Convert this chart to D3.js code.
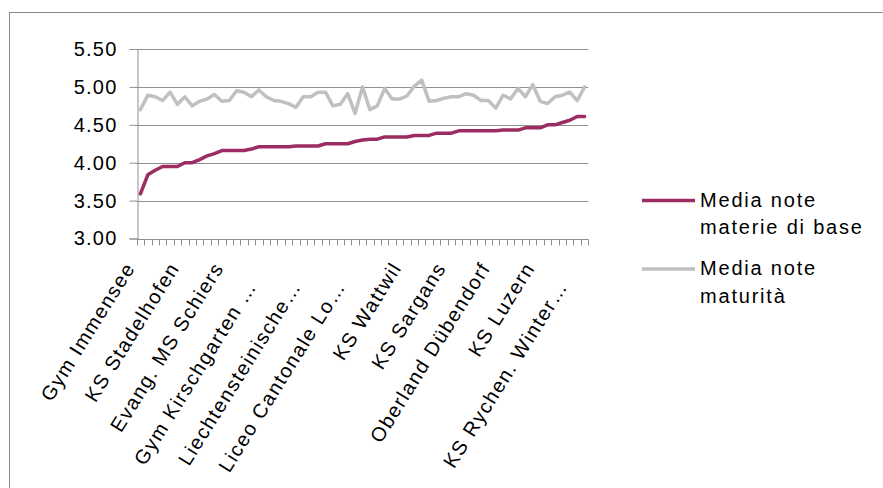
<!DOCTYPE html>
<html>
<head>
<meta charset="utf-8">
<script src="https://cdn.jsdelivr.net/npm/d3@7"></script>
<style>
	html, body { margin: 0; padding: 0; background: #fff; }
	#chart { width: 883px; height: 488px; }
	text { font-family: "Liberation Sans", Arial, sans-serif; fill: #000; }
</style>
</head>
<body>
<div id="chart"></div>
<script>

// schools, sorted by the base-subject average (only every 6th name is shown on the axis)
const schools = [
	"Gym Immensee", "Scuola 2", "Scuola 3", "Scuola 4", "Scuola 5", "Scuola 6",
	"KS Stadelhofen", "Scuola 8", "Scuola 9", "Scuola 10", "Scuola 11", "Scuola 12",
	"Evang. MS Schiers", "Scuola 14", "Scuola 15", "Scuola 16", "Scuola 17", "Scuola 18",
	"Gym Kirschgarten …", "Scuola 20", "Scuola 21", "Scuola 22", "Scuola 23", "Scuola 24",
	"Liechtensteinische…", "Scuola 26", "Scuola 27", "Scuola 28", "Scuola 29", "Scuola 30",
	"Liceo Cantonale Lo…", "Scuola 32", "Scuola 33", "Scuola 34", "Scuola 35", "Scuola 36",
	"KS Wattwil", "Scuola 38", "Scuola 39", "Scuola 40", "Scuola 41", "Scuola 42",
	"KS Sargans", "Scuola 44", "Scuola 45", "Scuola 46", "Scuola 47", "Scuola 48",
	"Oberland Dübendorf", "Scuola 50", "Scuola 51", "Scuola 52", "Scuola 53", "Scuola 54",
	"KS Luzern", "Scuola 56", "Scuola 57", "Scuola 58", "Scuola 59", "Scuola 60",
	"KS Rychen. Winter…"
];

const mediaBase = [
	3.59, 3.84, 3.90, 3.95, 3.95, 3.95, 4.00, 4.00, 4.04, 4.09,
	4.12, 4.16, 4.16, 4.16, 4.16, 4.18, 4.21, 4.21, 4.21, 4.21,
	4.21, 4.22, 4.22, 4.22, 4.22, 4.25, 4.25, 4.25, 4.25, 4.28,
	4.30, 4.31, 4.31, 4.34, 4.34, 4.34, 4.34, 4.36, 4.36, 4.36,
	4.39, 4.39, 4.39, 4.42, 4.42, 4.42, 4.42, 4.42, 4.42, 4.43,
	4.43, 4.43, 4.46, 4.46, 4.46, 4.50, 4.50, 4.53, 4.56, 4.61,
	4.61
];

const mediaMaturita = [
	4.70, 4.89, 4.87, 4.82, 4.93, 4.77, 4.87, 4.75, 4.81, 4.84,
	4.90, 4.81, 4.82, 4.95, 4.93, 4.87, 4.96, 4.87, 4.82, 4.81,
	4.78, 4.73, 4.87, 4.87, 4.93, 4.93, 4.75, 4.77, 4.91, 4.65,
	5.00, 4.70, 4.75, 4.98, 4.84, 4.84, 4.88, 5.01, 5.09, 4.81,
	4.82, 4.85, 4.87, 4.87, 4.91, 4.89, 4.82, 4.82, 4.72, 4.89,
	4.84, 4.98, 4.87, 5.03, 4.81, 4.78, 4.87, 4.89, 4.93, 4.82,
	5.00
];

const yTicks = [3.00, 3.50, 4.00, 4.50, 5.00, 5.50];

const series = [
	{name: ["Media note", "materie di base"], values: mediaBase, color: "#9b2d62"},
	{name: ["Media note", "maturità"], values: mediaMaturita, color: "#c0c0c0"}
];

function drawChart(rootDOM){

	const W = 883;
	const H = 488;
	const plot = {l: 136.7, r: 588.3, t: 49, b: 238.5};

	const svg = d3.select(rootDOM)
		.append("svg")
		.attr("width", W)
		.attr("height", H);

	// outer chart frame (runs off the right and bottom edges)
	svg.append("rect")
		.attr("x", 9.5)
		.attr("y", 12.5)
		.attr("width", W)
		.attr("height", H)
		.attr("fill", "none")
		.attr("stroke", "#8a8a8a");

	const x = d3.scaleBand()
		.domain(d3.range(schools.length))
		.range([plot.l, plot.r]);

	const y = d3.scaleLinear()
		.domain([3, 5.5])
		.range([plot.b, plot.t]);

	// gridlines
	svg.append("g")
		.selectAll("line")
		.data(yTicks.slice(1))
		.enter()
		.append("line")
		.attr("x1", plot.l)
		.attr("x2", plot.r)
		.attr("y1", d => Math.round(y(d)) + 0.5)
		.attr("y2", d => Math.round(y(d)) + 0.5)
		.attr("stroke", "#8f8f8f");

	// y axis
	const yAxis = svg.append("g")
		.attr("transform", `translate(${Math.round(plot.l) + 0.5},0)`)
		.call(d3.axisLeft(y)
			.tickValues(yTicks)
			.tickFormat(d3.format(".2f"))
			.tickSize(8)
			.tickPadding(12));

	yAxis.select(".domain").attr("stroke", "#8f8f8f");
	yAxis.selectAll(".tick line").attr("stroke", "#8f8f8f");
	yAxis.selectAll(".tick text")
		.style("font-size", "20px")
		.style("letter-spacing", "1.2px")
		.attr("fill", "#000");

	// x axis baseline and tick marks at category boundaries
	const axisY = Math.round(y(3)) + 0.5;
	svg.append("line")
		.attr("x1", plot.l)
		.attr("x2", plot.r)
		.attr("y1", axisY)
		.attr("y2", axisY)
		.attr("stroke", "#8f8f8f");

	const bounds = d3.range(schools.length + 1)
		.map(i => i < schools.length ? x(i) : plot.r);

	svg.append("g")
		.selectAll("line")
		.data(bounds)
		.enter()
		.append("line")
		.attr("x1", d => Math.round(d) + 0.5)
		.attr("x2", d => Math.round(d) + 0.5)
		.attr("y1", axisY)
		.attr("y2", axisY + 6)
		.attr("stroke", "#8f8f8f");

	// category labels, every 6th; truncated names sit a bit further out
	const cx = i => x(i) + x.bandwidth() / 2;

	svg.append("g")
		.selectAll("text")
		.data(schools.map((d, i) => ({name: d, i: i})).filter(d => d.i % 6 === 0))
		.enter()
		.append("text")
		.attr("transform", d => `translate(${cx(d.i) - 10.5},${264}) rotate(-58)`)
		.attr("text-anchor", "end")
		.attr("dx", d => d.name.endsWith("…") ? "-1.1em" : 0)
		.attr("dy", "0.35em")
		.style("font-size", "20px")
		.style("letter-spacing", "1.5px")
		.text(d => d.name);

	// lines
	const line = d3.line()
		.x((d, i) => cx(i))
		.y(d => y(d));

	svg.append("g")
		.selectAll("path")
		.data(series.slice().reverse())
		.enter()
		.append("path")
		.attr("d", d => line(d.values))
		.attr("fill", "none")
		.attr("stroke", d => d.color)
		.attr("stroke-width", 3.5)
		.attr("stroke-linejoin", "round")
		.attr("stroke-linecap", "round");

	// legend
	const legend = svg.append("g")
		.selectAll("g")
		.data(series)
		.enter()
		.append("g")
		.attr("transform", (d, i) => `translate(642,${200.5 + i * 68.5})`);

	legend.append("line")
		.attr("x1", 0)
		.attr("x2", 53)
		.attr("stroke", d => d.color)
		.attr("stroke-width", 3.5);

	legend.append("text")
		.attr("x", 58)
		.attr("y", 6)
		.style("font-size", "20px")
		.style("letter-spacing", "1.8px")
		.selectAll("tspan")
		.data(d => d.name)
		.enter()
		.append("tspan")
		.attr("x", 58)
		.attr("dy", (d, i) => i === 0 ? 0 : 27.5)
		.text(d => d);
}

drawChart(document.getElementById("chart"));
</script>
</body>
</html>
